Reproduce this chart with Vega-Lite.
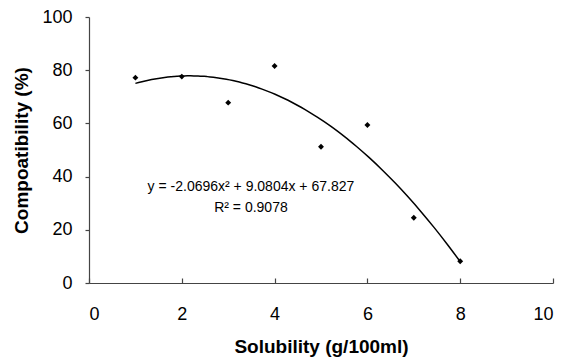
{
  "$schema": "https://vega.github.io/schema/vega-lite/v6.json",
  "autosize": "none",
  "width": 464,
  "height": 266,
  "padding": {"left": 89, "top": 17, "right": 10, "bottom": 78},
  "background": "white",
  "config": {
    "view": {"stroke": null},
    "font": "Liberation Sans",
    "axis": {"grid": false, "domainColor": "#444", "tickColor": "#444", "labelColor": "black", "titleColor": "black", "labelFont": "Liberation Sans", "titleFont": "Liberation Sans", "labelFontSize": 18, "titleFontSize": 19, "titleFontWeight": "bold", "domainWidth": 1.2, "tickWidth": 1.2}
  },
  "datasets": {
    "points": [
      {"solubility": 1, "compat": 77.2},
      {"solubility": 2, "compat": 77.6},
      {"solubility": 3, "compat": 67.8},
      {"solubility": 4, "compat": 81.6},
      {"solubility": 5, "compat": 51.2},
      {"solubility": 6, "compat": 59.4},
      {"solubility": 7, "compat": 24.5},
      {"solubility": 8, "compat": 8.2}
    ],
    "labels": [
      {"x": 3.49, "y": 36.1, "text": "y = -2.0696x² + 9.0804x + 67.827"},
      {"x": 3.49, "y": 28.2, "text": "R² = 0.9078"}
    ]
  },
  "layer": [
    {
      "data": {"name": "points"},
      "transform": [{"regression": "compat", "on": "solubility", "method": "poly", "order": 2, "extent": [1, 8]}],
      "mark": {"type": "line", "color": "black", "strokeWidth": 1.5, "interpolate": "monotone"},
      "encoding": {
        "x": {"field": "solubility", "type": "quantitative", "scale": {"domain": [0, 10]}, "axis": {"values": [0, 2, 4, 6, 8, 10], "title": "Solubility (g/100ml)", "tickSize": -5, "labelPadding": 27, "titlePadding": 14}},
        "y": {"field": "compat", "type": "quantitative", "scale": {"domain": [0, 100]}, "axis": {"values": [0, 20, 40, 60, 80, 100], "title": "Compoatibility (%)", "tickSize": 4, "labelPadding": 13, "titlePadding": 10}}
      }
    },
    {
      "data": {"name": "points"},
      "mark": {"type": "point", "shape": "diamond", "filled": true, "color": "black", "size": 35, "opacity": 1},
      "encoding": {
        "x": {"field": "solubility", "type": "quantitative"},
        "y": {"field": "compat", "type": "quantitative"}
      }
    },
    {
      "data": {"name": "labels"},
      "mark": {"type": "text", "fontSize": 14, "color": "black", "align": "center", "baseline": "middle"},
      "encoding": {
        "x": {"field": "x", "type": "quantitative"},
        "y": {"field": "y", "type": "quantitative"},
        "text": {"field": "text"}
      }
    }
  ]
}
